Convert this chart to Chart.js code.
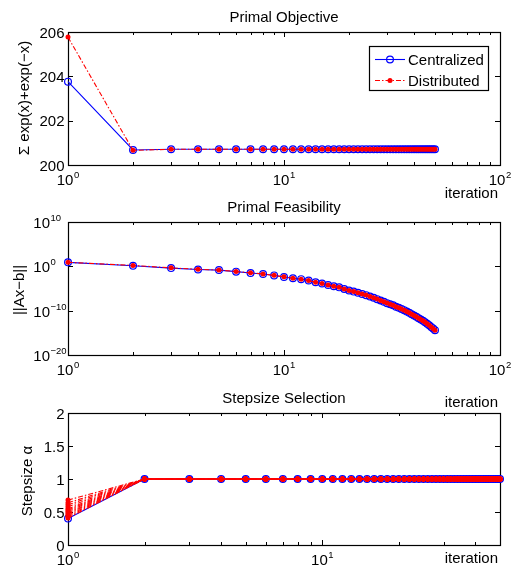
<!DOCTYPE html>
<html>
<head>
<meta charset="utf-8">
<script src="https://cdn.jsdelivr.net/npm/chart.js@4.4.1/dist/chart.umd.min.js"></script>
<style>
  body { margin: 0; background: #fff; }
  #wrap { position: relative; width: 515px; height: 565px; }
  canvas { position: absolute; left: 0; top: 0; }
</style>
</head>
<body>
<div id="wrap">
  <canvas id="objChart" width="515" height="565"></canvas>
  <canvas id="feasChart" width="515" height="565"></canvas>
  <canvas id="stepChart" width="515" height="565"></canvas>
</div>
<script>
// ---- data ----
const iterations = [1, 2, 3, 4, 5, 6, 7, 8, 9, 10, 11, 12, 13, 14, 15, 16, 17, 18, 19, 20,
  21, 22, 23, 24, 25, 26, 27, 28, 29, 30, 31, 32, 33, 34, 35, 36, 37, 38, 39, 40,
  41, 42, 43, 44, 45, 46, 47, 48, 49, 50];

const objCentralized = [203.76, 200.68, 200.71, 200.71, 200.71, 200.71, 200.71, 200.71, 200.71, 200.71,
  200.71, 200.71, 200.71, 200.71, 200.71, 200.71, 200.71, 200.71, 200.71, 200.71,
  200.71, 200.71, 200.71, 200.71, 200.71, 200.71, 200.71, 200.71, 200.71, 200.71,
  200.71, 200.71, 200.71, 200.71, 200.71, 200.71, 200.71, 200.71, 200.71, 200.71,
  200.71, 200.71, 200.71, 200.71, 200.71, 200.71, 200.71, 200.71, 200.71, 200.71];
const objDistributed = [205.77, 200.66, 200.71, 200.71, 200.71, 200.71, 200.71, 200.71, 200.71, 200.71,
  200.71, 200.71, 200.71, 200.71, 200.71, 200.71, 200.71, 200.71, 200.71, 200.71,
  200.71, 200.71, 200.71, 200.71, 200.71, 200.71, 200.71, 200.71, 200.71, 200.71,
  200.71, 200.71, 200.71, 200.71, 200.71, 200.71, 200.71, 200.71, 200.71, 200.71,
  200.71, 200.71, 200.71, 200.71, 200.71, 200.71, 200.71, 200.71, 200.71, 200.71];

const feasCentralized = [8.0, 1.4, 0.40, 0.20, 0.14, 6.3e-2, 3.2e-2, 1.8e-2, 8.9e-3, 4.0e-3,
  2.0e-3, 1.3e-3, 6.3e-4, 2.5e-4, 1.3e-4, 6.3e-5, 3.2e-5, 1.8e-5, 7.9e-6, 3.5e-6,
  2.0e-6, 1.1e-6, 5.6e-7, 3.2e-7, 1.6e-7, 7.9e-8, 4.0e-8, 2.0e-8, 1.0e-8, 5.0e-9,
  2.8e-9, 1.6e-9, 7.9e-10, 4.5e-10, 2.5e-10, 1.3e-10, 6.3e-11, 3.2e-11, 1.6e-11, 7.9e-12,
  4.0e-12, 2.0e-12, 1.0e-12, 5.0e-13, 2.5e-13, 1.1e-13, 5.0e-14, 2.2e-14, 1.0e-14, 4.0e-15];
const feasDistributed = [8.0, 1.6, 0.45, 0.21, 0.15, 6.5e-2, 3.4e-2, 1.9e-2, 9.2e-3, 4.2e-3,
  2.1e-3, 1.3e-3, 6.5e-4, 2.6e-4, 1.3e-4, 6.5e-5, 3.3e-5, 1.8e-5, 8.1e-6, 3.6e-6,
  2.0e-6, 1.1e-6, 5.8e-7, 3.3e-7, 1.6e-7, 8.1e-8, 4.1e-8, 2.0e-8, 1.0e-8, 5.1e-9,
  2.8e-9, 1.6e-9, 8.0e-10, 4.5e-10, 2.5e-10, 1.3e-10, 6.4e-11, 3.2e-11, 1.6e-11, 8.0e-12,
  4.0e-12, 2.0e-12, 1.0e-12, 5.0e-13, 2.5e-13, 1.1e-13, 5.0e-14, 2.2e-14, 1.0e-14, 4.0e-15];

const stepCentralized = [0.40, 1, 1, 1, 1, 1, 1, 1, 1, 1, 1, 1, 1, 1, 1, 1, 1, 1, 1, 1,
  1, 1, 1, 1, 1, 1, 1, 1, 1, 1, 1, 1, 1, 1, 1, 1, 1, 1, 1, 1,
  1, 1, 1, 1, 1, 1, 1, 1, 1, 1];
// distributed: one line per agent, first-iteration stepsizes differ
const stepAgentsFirst = [0.41, 0.43, 0.45, 0.47, 0.49, 0.51, 0.53, 0.55, 0.58, 0.61, 0.64, 0.68];
// iterations 2..50, same for every agent
const stepAgentsLater = [1, 1, 1, 1, 1, 1, 1, 1, 1, 1, 1, 1, 1, 1, 1, 1, 1, 1, 1,
  1, 1, 1, 1, 1, 1, 1, 1, 1, 1, 1, 1, 1, 1, 1, 1, 1, 1, 1, 1,
  1, 1, 1, 1, 1, 1, 1, 1, 1, 1];

// ---- tick definitions ----
const xMajorTicks = [1, 10, 100];
const xMajorExp = ['0', '1', '2'];
const xMinorTicks = [2, 3, 4, 5, 6, 7, 8, 9, 20, 30, 40, 50, 60, 70, 80, 90];
const objYTicks = [200, 202, 204, 206];
const feasYTicks = [1e10, 1e0, 1e-10, 1e-20];
const feasYExp = ['10', '0', '\u221210', '\u221220'];
const stepYTicks = [0, 0.5, 1, 1.5, 2];
const stepYLabels = ['0', '0.5', '1', '1.5', '2'];

const FONT = '"Liberation Sans", Arial, Helvetica, sans-serif';
const BLUE = '#0000ff';
const RED = '#ff0000';
const DASHDOT = [5, 2, 1.5, 2];

function pts(ys, xs) {
  return ys.map((v, i) => ({ x: xs[i], y: v }));
}

function centralSet(ys) {
  return {
    label: 'Centralized', data: pts(ys, iterations), showLine: true,
    borderColor: BLUE, borderWidth: 1.1, pointRadius: 3.4, pointBorderWidth: 1.2,
    pointBorderColor: BLUE, pointBackgroundColor: 'rgba(0,0,0,0)',
    clip: false, order: 1
  };
}
function distribSet(data) {
  return {
    label: 'Distributed', data: data, showLine: true,
    borderColor: RED, borderWidth: 1.1, borderDash: DASHDOT, pointRadius: 2.5,
    pointBorderWidth: 0, pointBackgroundColor: RED, clip: false, order: 0
  };
}

// draws "10" with a superscript exponent
function powText(ctx, exp, x, base, mode) {
  ctx.font = '15px ' + FONT;
  const w = ctx.measureText('10').width;
  ctx.font = '9.5px ' + FONT;
  const we = ctx.measureText(exp).width;
  let x0 = mode === 'center' ? x - (w + 0.5 + we) / 2 : x - w;
  ctx.textAlign = 'left';
  ctx.font = '15px ' + FONT;
  ctx.fillText('10', x0, base);
  ctx.font = '9.5px ' + FONT;
  ctx.fillText(exp, x0 + w + 0.5, base - 7);
}

// MATLAB-like box axes with inward ticks
const matlabAxes = {
  id: 'matlabAxes',
  beforeDatasetsDraw(chart, args, o) {
    const { ctx, chartArea: a, scales: { x, y } } = chart;
    ctx.save();
    ctx.strokeStyle = '#000';
    ctx.lineWidth = 1.2;
    ctx.strokeRect(a.left + 0.5, a.top + 0.5, a.right - a.left, a.bottom - a.top);
    ctx.lineWidth = 1;
    ctx.beginPath();
    const tick = (px, len) => {
      px = Math.round(px) + 0.5;
      ctx.moveTo(px, a.bottom); ctx.lineTo(px, a.bottom - len);
      ctx.moveTo(px, a.top); ctx.lineTo(px, a.top + len);
    };
    xMajorTicks.forEach(v => { if (v <= x.max) tick(x.getPixelForValue(v), 5); });
    xMinorTicks.forEach(v => { if (v < x.max) tick(x.getPixelForValue(v), 3); });
    o.yTicks.forEach(v => {
      const py = Math.round(y.getPixelForValue(v)) + 0.5;
      ctx.moveTo(a.left, py); ctx.lineTo(a.left + 5, py);
      ctx.moveTo(a.right, py); ctx.lineTo(a.right - 5, py);
    });
    ctx.stroke();
    ctx.restore();
  },
  afterDatasetsDraw(chart, args, o) {
    const { ctx, chartArea: a, scales: { x, y } } = chart;
    ctx.save();
    ctx.fillStyle = '#000';
    ctx.textBaseline = 'alphabetic';
    const cx = (a.left + a.right) / 2;

    // title
    ctx.font = '15px ' + FONT;
    ctx.textAlign = 'center';
    ctx.fillText(o.title, cx, a.top - 10);

    // x tick labels
    xMajorTicks.forEach((v, i) => {
      if (v <= x.max) powText(ctx, xMajorExp[i], x.getPixelForValue(v), a.bottom + 20, 'center');
    });
    // x label
    ctx.font = '15px ' + FONT;
    ctx.textAlign = 'right';
    ctx.fillText('iteration', a.right - 2, o.xlabelY);

    // y tick labels
    o.yTicks.forEach((v, i) => {
      const py = y.getPixelForValue(v);
      if (o.yExp) {
        powText(ctx, o.yExp[i], 50, py + 6, 'right');
      } else {
        ctx.font = '15px ' + FONT;
        ctx.textAlign = 'right';
        ctx.fillText(o.yLabels[i], a.left - 3.5, py + 5.5);
      }
    });

    // y label
    ctx.save();
    ctx.translate(o.ylabelX, o.ylabelY);
    ctx.rotate(-Math.PI / 2);
    ctx.font = '15px ' + FONT;
    ctx.textAlign = 'center';
    ctx.fillText(o.ylabel, 0, 0);
    ctx.restore();

    // legend
    if (o.legend) {
      const L = o.legend;
      ctx.fillStyle = '#fff';
      ctx.fillRect(L[0], L[1], L[2] - L[0], L[3] - L[1]);
      ctx.strokeStyle = '#000';
      ctx.lineWidth = 1.2;
      ctx.strokeRect(L[0] + 0.5, L[1] + 0.5, L[2] - L[0], L[3] - L[1]);
      const rows = [L[1] + 13, L[1] + 34];
      chart.data.datasets.slice().sort((p, q) => q.order - p.order).forEach((ds, i) => {
        const ry = rows[i] + 0.5;
        ctx.lineWidth = 1.1;
        ctx.beginPath();
        ctx.strokeStyle = ds.borderColor;
        ctx.setLineDash(ds.borderDash || []);
        ctx.moveTo(L[0] + 6, ry); ctx.lineTo(L[0] + 36, ry);
        ctx.stroke();
        ctx.setLineDash([]);
        ctx.beginPath();
        ctx.arc(L[0] + 21, ry, ds.pointRadius, 0, Math.PI * 2);
        if (ds.pointBorderWidth) { ctx.lineWidth = ds.pointBorderWidth; ctx.strokeStyle = ds.pointBorderColor; ctx.stroke(); }
        else { ctx.fillStyle = ds.pointBackgroundColor; ctx.fill(); }
        ctx.fillStyle = '#000';
        ctx.font = '15px ' + FONT;
        ctx.textAlign = 'left';
        ctx.fillText(ds.label, L[0] + 39, rows[i] + 5.5);
      });
    }
    ctx.restore();
  }
};

function makeChart(id, area, xMax, yType, yMin, yMax, datasets, axes) {
  return new Chart(document.getElementById(id), {
    type: 'scatter',
    data: { datasets: datasets },
    options: {
      responsive: false, animation: false, devicePixelRatio: 1, events: [],
      layout: { padding: { left: area[0], top: area[1], right: 515 - area[2], bottom: 565 - area[3] } },
      scales: {
        x: { type: 'logarithmic', min: 1, max: xMax, display: false },
        y: { type: yType, min: yMin, max: yMax, display: false }
      },
      elements: { line: { tension: 0 } },
      plugins: { legend: { display: false }, tooltip: { enabled: false }, matlabAxes: axes }
    },
    plugins: [matlabAxes]
  });
}

// Primal Objective
makeChart('objChart', [68, 32, 500, 165], 100, 'linear', 200, 206,
  [centralSet(objCentralized), distribSet(pts(objDistributed, iterations))],
  { title: 'Primal Objective', xlabelY: 198, yTicks: objYTicks, yLabels: objYTicks.map(String),
    ylabel: '\u03A3 exp(x)+exp(\u2212x)', ylabelX: 29, ylabelY: 98, legend: [369, 46, 488, 90] });

// Primal Feasibility
makeChart('feasChart', [68, 222, 500, 355], 100, 'logarithmic', 1e-20, 1e10,
  [centralSet(feasCentralized), distribSet(pts(feasDistributed, iterations))],
  { title: 'Primal Feasibility', xlabelY: 406.5, yTicks: feasYTicks, yExp: feasYExp,
    ylabel: '||Ax\u2212b||', ylabelX: 24, ylabelY: 290 });

// Stepsize Selection
const stepSets = [centralSet(stepCentralized)];
stepAgentsFirst.forEach(v => {
  const ys = [v].concat(stepAgentsLater);
  stepSets.push(distribSet(pts(ys, iterations)));
});
makeChart('stepChart', [68, 413, 500, 545], 50, 'linear', 0, 2, stepSets,
  { title: 'Stepsize Selection', xlabelY: 563, yTicks: stepYTicks, yLabels: stepYLabels,
    ylabel: 'Stepsize \u03B1', ylabelX: 32, ylabelY: 481 });
</script>
</body>
</html>
